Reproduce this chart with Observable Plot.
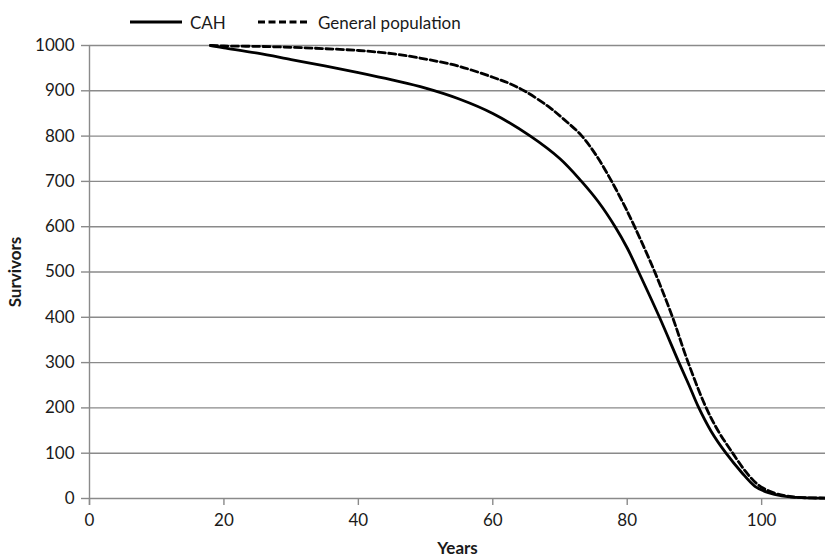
<!DOCTYPE html>
<html>
<head>
<meta charset="utf-8">
<script src="https://cdn.jsdelivr.net/npm/d3@7"></script>
<script src="https://cdn.jsdelivr.net/npm/@observablehq/plot@0.6"></script>
<style>
  html, body { margin: 0; padding: 0; background: #fff; }
  #wrap { width: 825px; font-family: Lato, "Open Sans", sans-serif; color: #1a1a1a; }
  #legend { position: relative; height: 30px; font-size: 17px; }
  .item { position: absolute; top: 12px; display: flex; align-items: center; height: 20px; }
  .item svg { margin-right: 8px; }
  #chart svg g[aria-label="x-axis label"] text,
  #chart svg g[aria-label="y-axis label"] text { font-weight: bold; }
</style>
</head>
<body>
<div id="wrap">
  <div id="legend"></div>
  <div id="chart"></div>
</div>
<script>
// ---- data ----
const seriesNames = ["CAH", "General population"];

const cahAge = [18, 20, 25, 30, 35, 40, 45, 50, 55, 60, 65.6, 70, 73.2, 75.7, 78.2, 80, 81.7, 84.8, 87.7, 89.2, 90.5, 92.5, 94.7, 97, 99, 101, 103, 106, 109.5];
const cahSurvivors = [1000, 995, 983, 969, 955, 940, 924, 906, 882, 850, 800, 750, 700, 655, 600, 553, 500, 400, 300, 250, 205, 148, 100, 58, 27, 13, 6, 2, 1];

const genAge = [18, 20, 25, 30, 35, 40, 45, 50, 55, 60, 62.5, 64.8, 68.3, 70.5, 73.2, 75.5, 77.5, 79.4, 81.1, 84.1, 86.7, 88.9, 91.6, 93.5, 95.7, 97.7, 99.5, 101.5, 103.5, 106, 109.5];
const genSurvivors = [1000, 999, 998, 996, 993, 989, 982, 970, 954, 930, 916, 899, 865, 838, 801, 755, 705, 652, 600, 500, 402, 307, 205, 150, 100, 58, 30, 14, 6, 2, 1];

const xTicks = [0, 20, 40, 60, 80, 100];
const yTicks = [0, 100, 200, 300, 400, 500, 600, 700, 800, 900, 1000];

// ---- build tables ----
const cahData = cahAge.map((a, i) => ({age: a, survivors: cahSurvivors[i]}));
const genData = genAge.map((a, i) => ({age: a, survivors: genSurvivors[i]}));

const gridColor = "#8a8a8a";
const textColor = "#1a1a1a";

// ---- legend ----
const legend = document.getElementById("legend");
function legendItem(left, label, dash) {
  const div = document.createElement("div");
  div.className = "item";
  div.style.left = left + "px";
  div.innerHTML = `<svg width="52" height="10"><line x1="0" x2="52" y1="5" y2="5" stroke="black" stroke-width="2.8" ${dash ? 'stroke-dasharray="7,3.5"' : ""}/></svg><span>${label}</span>`;
  legend.appendChild(div);
}
legendItem(130, seriesNames[0], false);
legendItem(258, seriesNames[1], true);

// ---- chart ----
const chart = Plot.plot({
  width: 825,
  height: 527,
  marginLeft: 89,
  marginRight: 0,
  marginTop: 15,
  marginBottom: 59,
  style: {fontFamily: "Lato, 'Open Sans', sans-serif", fontSize: "17px", color: textColor, background: "white", overflow: "visible"},
  x: {domain: [0, 109.5]},
  y: {domain: [0, 1000]},
  marks: [
    Plot.gridY(yTicks, {stroke: gridColor, strokeOpacity: 1, strokeWidth: 1.4}),
    Plot.axisY(yTicks, {
      tickSize: 8, tickPadding: 7, stroke: gridColor, strokeWidth: 1.4, fill: textColor,
      tickFormat: d => String(d),
      label: "Survivors", labelAnchor: "center", labelArrow: "none", labelOffset: 81
    }),
    Plot.axisX(xTicks, {
      tickSize: 7, tickPadding: 8, stroke: gridColor, strokeWidth: 1.4, fill: textColor,
      tickFormat: d => String(d),
      label: "Years", labelAnchor: "center", labelArrow: "none", labelOffset: 55
    }),
    Plot.ruleX([0], {stroke: gridColor, strokeWidth: 1.4, insetBottom: -7}),
    Plot.line(genData, {x: "age", y: "survivors", stroke: "black", strokeWidth: 2.8, strokeDasharray: "7,3.5", curve: "catmull-rom"}),
    Plot.line(cahData, {x: "age", y: "survivors", stroke: "black", strokeWidth: 2.8, curve: "catmull-rom"})
  ]
});
document.getElementById("chart").appendChild(chart);
</script>
</body>
</html>
